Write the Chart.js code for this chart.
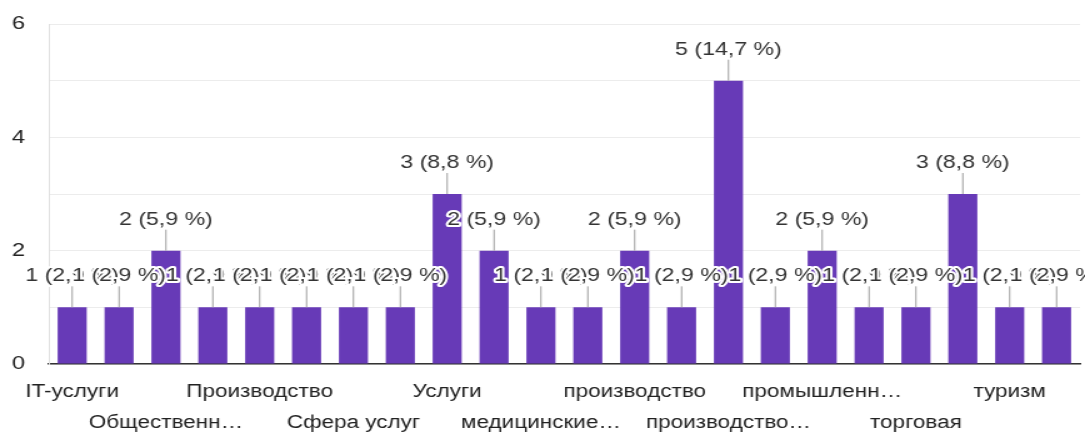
<!DOCTYPE html>
<html>
<head>
<meta charset="utf-8">
<script src="https://cdn.jsdelivr.net/npm/chart.js@4"></script>
<style>
  html, body { margin: 0; padding: 0; background: #fff; overflow: hidden; }
  /* the reference is a horizontally stretched screenshot, so draw narrow and stretch */
  #wrap { width: 868px; height: 433px; transform: scaleX(1.25); transform-origin: 0 0; }
</style>
</head>
<body>
<div id="wrap"><canvas id="chart"></canvas></div>
<script>
// Categories (sorted like the form summary; odd ones are hidden on the axis)
const categories = [
    'IT-услуги', 'Логистика', 'Общественн…', 'Образование', 'Производство',
    'Розничная торговля', 'Сфера услуг', 'Строительство', 'Услуги', 'Финансы',
    'медицинские…', 'образование', 'производство', 'производство и торговля',
    'производство…', 'продажи', 'промышленн…', 'строительство', 'торговая',
    'торговля', 'туризм', 'услуги'
];
const counts = [1, 1, 2, 1, 1, 1, 1, 1, 3, 2, 1, 1, 2, 1, 5, 1, 2, 1, 1, 3, 1, 1];
const yTicks = [0, 2, 4, 6];

const total = counts.reduce((a, b) => a + b, 0);
const FONT = '"Liberation Sans", Arial, sans-serif';

// leader line + "n (p %)" label above every bar, drawn with a white halo
const barLabels = {
    id: 'barLabels',
    afterDatasetsDraw(chart) {
        const ctx = chart.ctx;
        const meta = chart.getDatasetMeta(0);
        ctx.save();
        ctx.font = '18.5px ' + FONT;
        ctx.textAlign = 'center';
        ctx.textBaseline = 'middle';
        meta.data.forEach((bar, i) => {
            const v = counts[i];
            const pct = (v / total * 100).toFixed(1).replace('.', ',');
            const txt = v + ' (' + pct + ' %)';
            ctx.strokeStyle = '#9e9e9e';
            ctx.lineWidth = 1;
            ctx.beginPath();
            ctx.moveTo(bar.x, bar.y);
            ctx.lineTo(bar.x, bar.y - 21);
            ctx.stroke();
            ctx.lineWidth = 4;
            ctx.lineJoin = 'round';
            ctx.strokeStyle = '#fff';
            ctx.strokeText(txt, bar.x, bar.y - 31);
            ctx.fillStyle = '#333';
            ctx.fillText(txt, bar.x, bar.y - 31);
        });
        ctx.restore();
    }
};

new Chart(document.getElementById('chart'), {
    type: 'bar',
    data: {
        labels: categories,
        datasets: [{
            data: counts,
            backgroundColor: '#673ab7',
            categoryPercentage: 1,
            barPercentage: 0.62
        }]
    },
    options: {
        responsive: true,
        maintainAspectRatio: false,
        animation: false,
        layout: { padding: { top: 24, left: 9, right: 4, bottom: 0 } },
        plugins: { legend: { display: false }, tooltip: { enabled: false } },
        scales: {
            x: {
                // fixed axis height, labels may overhang the plot edges
                afterFit: s => { s.height = 69; s.paddingLeft = s.paddingRight = 0; },
                grid: { display: false, drawTicks: false },
                border: { color: '#333', width: 1.5 },
                ticks: {
                    autoSkip: false,
                    maxRotation: 0,
                    padding: 13,
                    color: '#222',
                    font: { family: FONT, size: 18, lineHeight: 1.7 },
                    callback: (v, i) => {
                        if (i % 2) return '';
                        return i % 4 === 0 ? categories[i] : ['', categories[i]];
                    }
                }
            },
            y: {
                min: 0,
                max: 6,
                afterFit: s => { s.width = 30; s.paddingTop = s.paddingBottom = 0; },
                grid: { color: '#ececec', drawTicks: false },
                border: { color: '#e0e0e0' },
                ticks: {
                    stepSize: 1,
                    padding: 19,
                    color: '#222',
                    font: { family: FONT, size: 19 },
                    callback: v => yTicks.includes(v) ? v : ''
                }
            }
        }
    },
    plugins: [barLabels]
});
</script>
</body>
</html>
